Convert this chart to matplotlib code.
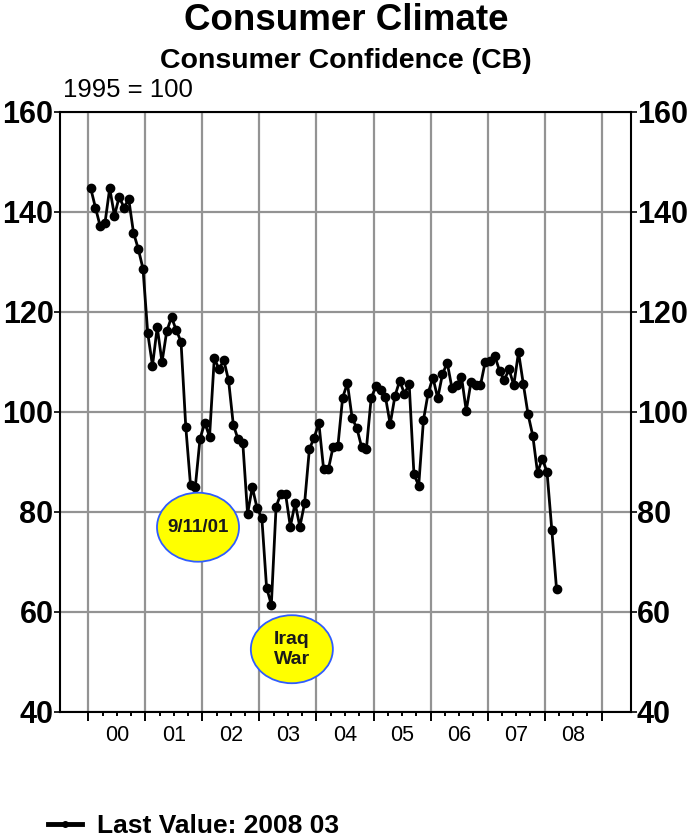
import matplotlib
matplotlib.use('Agg')
import matplotlib.pyplot as plt
from matplotlib.patches import Ellipse
from matplotlib.lines import Line2D
import numpy as np
import pandas as pd

plt.rcParams['font.family'] = ['Liberation Sans', 'DejaVu Sans']

# monthly Consumer Confidence (CB), Jan 2000 .. Mar 2008
conf_2000 = [144.7, 140.8, 137.1, 137.7, 144.7, 139.2, 143.0, 140.8, 142.5, 135.8, 132.6, 128.6]
conf_2001 = [115.7, 109.2, 116.9, 109.9, 116.1, 118.9, 116.3, 114.0, 97.0, 85.3, 84.9, 94.6]
conf_2002 = [97.8, 95.0, 110.7, 108.5, 110.3, 106.3, 97.4, 94.5, 93.7, 79.6, 84.9, 80.7]
conf_2003 = [78.8, 64.8, 61.4, 81.0, 83.6, 83.5, 77.0, 81.7, 77.0, 81.7, 92.5, 94.8]
conf_2004 = [97.7, 88.5, 88.5, 93.0, 93.1, 102.8, 105.7, 98.7, 96.7, 92.9, 92.6, 102.7]
conf_2005 = [105.1, 104.4, 103.0, 97.5, 103.1, 106.2, 103.6, 105.5, 87.5, 85.2, 98.3, 103.8]
conf_2006 = [106.8, 102.7, 107.5, 109.8, 104.7, 105.4, 107.0, 100.2, 105.9, 105.4, 105.3, 110.0]
conf_2007 = [110.2, 111.2, 108.2, 106.3, 108.5, 105.3, 111.9, 105.6, 99.5, 95.2, 87.8, 90.6]
conf_2008 = [87.9, 76.4, 64.5]

values = (conf_2000 + conf_2001 + conf_2002 + conf_2003 + conf_2004 +
          conf_2005 + conf_2006 + conf_2007 + conf_2008)
dates = pd.date_range('2000-01-01', periods=len(values), freq='MS')
year_labels = ['00', '01', '02', '03', '04', '05', '06', '07', '08']
y_ticks = [40, 60, 80, 100, 120, 140, 160]

# decimal year at mid-month
xpos = dates.year + (dates.month - 0.5) / 12.0

fig = plt.figure(figsize=(6.92, 8.39), dpi=100)
ax = fig.add_axes([0.086, 0.1517, 0.8254, 0.7152])

ax.plot(xpos, values, color='black', lw=2.0, marker='o', markersize=6, zorder=3)

ax.set_xlim(1999.495, 2009.508)
ax.set_ylim(40, 160)

# axes / grid
years = np.arange(2000, 2010)
ax.set_xticks(years)
ax.set_xticks(np.arange(2000, 2009.01, 0.25), minor=True)
ax.set_xticklabels([])
ax.tick_params(axis='x', which='major', length=6.5, width=1.4, direction='out', color='black')
ax.tick_params(axis='x', which='minor', length=3, width=1.4, direction='out', color='black')

ax.set_yticks(y_ticks)
ax.set_yticklabels([str(v) for v in y_ticks], fontsize=22, fontweight='bold')
ax.tick_params(axis='y', length=4.3, width=1.2, pad=0, left=True, right=True,
               labelleft=True, labelright=True)

ax.grid(True, color='#939393', lw=1.6, zorder=1)
ax.set_axisbelow(True)
for s in ['left', 'right', 'bottom', 'top']:
    ax.spines[s].set_linewidth(1.5)
    ax.spines[s].set_color('black')

for i, lab in enumerate(year_labels):
    ax.text(2000.5 + i, -0.039, lab, transform=ax.get_xaxis_transform(),
            ha='center', va='center', fontsize=15.5)

# event bubbles
ax.add_patch(Ellipse((2001.923, 76.9), 1.438, 13.8, facecolor='#ffff00',
                     edgecolor='#2f5cff', lw=1.3, zorder=4))
ax.text(2001.923, 76.9, '9/11/01', ha='center', va='center', fontsize=13.5,
        fontweight='bold', color='#1a1a1a', zorder=5)
ax.add_patch(Ellipse((2003.568, 52.5), 1.438, 13.6, facecolor='#ffff00',
                     edgecolor='#2f5cff', lw=1.3, zorder=4))
ax.text(2003.568, 52.5, 'Iraq\nWar', ha='center', va='center', fontsize=14,
        fontweight='bold', color='#1a1a1a', linespacing=1.25, zorder=5)

# titles
fig.text(0.5, 1 - 20 / 839, 'Consumer Climate', ha='center', va='center',
         fontsize=26.5, fontweight='bold')
fig.text(0.5, 1 - 61 / 839, 'Consumer Confidence (CB)', ha='center', va='center',
         fontsize=20.5, fontweight='bold')
fig.text(63 / 692, 1 - 90 / 839, '1995 = 100', ha='left', va='center', fontsize=18.5)

# legend
handle = Line2D([], [], color='black', lw=3.5, marker='o', markersize=4)
fig.legend([handle], ['Last Value: 2008 03'], loc='center left',
           bbox_to_anchor=(48 / 692, 13 / 839), frameon=False, borderpad=0,
           borderaxespad=0, handlelength=1.3, handletextpad=0.55,
           prop={'size': 19, 'weight': 'bold'})

fig.savefig('out.png', dpi=100)
